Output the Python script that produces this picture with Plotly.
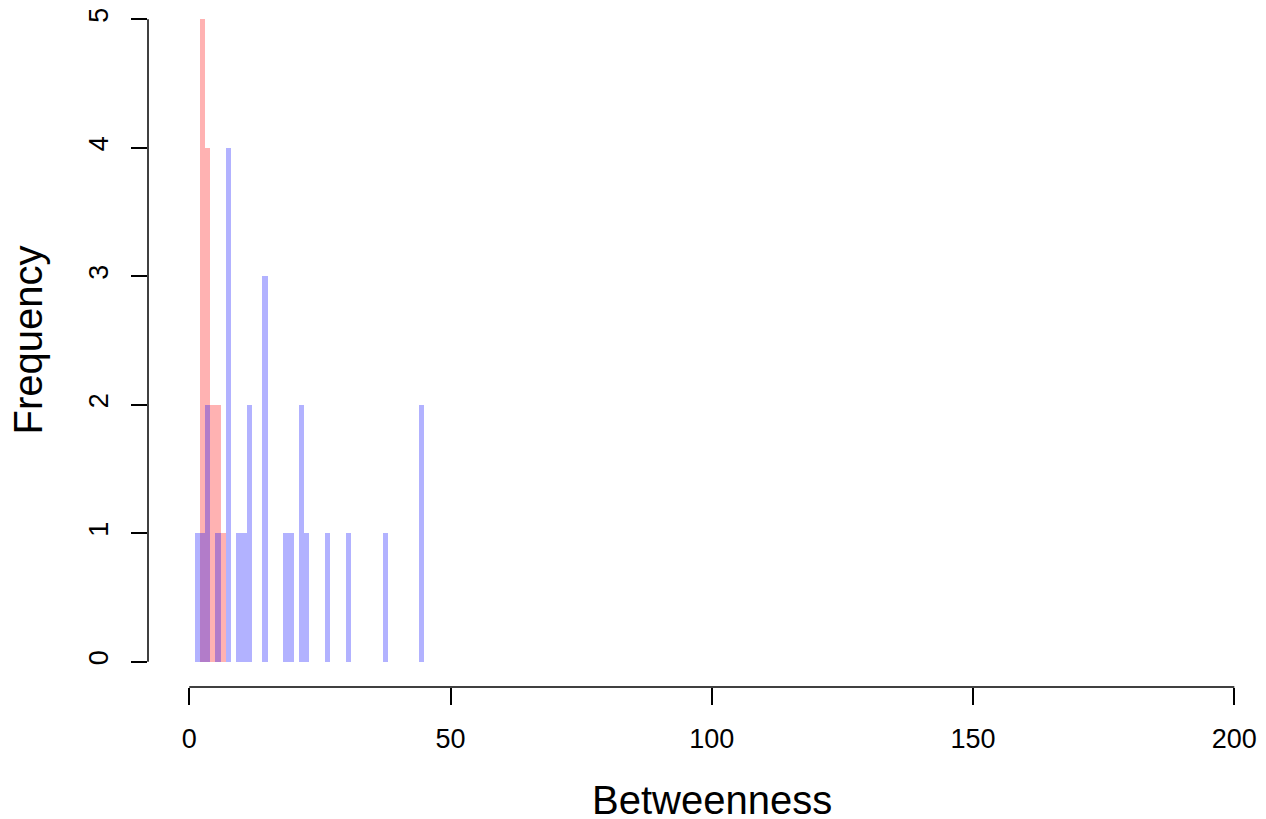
import plotly.graph_objects as go

# Histogram bins (left edges, width 1) and counts
red_bin_left = [2, 3, 4, 5, 6]
red_counts = [5, 4, 2, 2, 1]

blue_bin_left = [1, 2, 3, 5, 7, 9, 10, 11, 14, 18, 19, 21, 22, 26, 30, 37, 44]
blue_counts = [1, 1, 2, 1, 4, 1, 1, 2, 3, 1, 1, 2, 1, 1, 1, 1, 2]

x_ticks = [0, 50, 100, 150, 200]
y_ticks = [0, 1, 2, 3, 4, 5]

FONT = "Liberation Sans, Arial, sans-serif"

fig = go.Figure()
fig.add_trace(go.Bar(
    x=red_bin_left, y=red_counts, width=1, offset=0,
    marker=dict(color="rgba(255,0,0,0.3)", line=dict(width=0)),
    showlegend=False,
))
fig.add_trace(go.Bar(
    x=blue_bin_left, y=blue_counts, width=1, offset=0,
    marker=dict(color="rgba(0,0,255,0.3)", line=dict(width=0)),
    showlegend=False,
))

# page body has an 8px margin; figure sized to fit the remaining window
W, H = 1258, 811
L, B = 140, 132
PH = H - B  # plot height

fig.update_layout(
    width=W, height=H,
    margin=dict(l=L, r=0, t=0, b=B, pad=0),
    paper_bgcolor="white", plot_bgcolor="white",
    barmode="overlay", bargap=0,
    font=dict(family=FONT, color="black"),
    xaxis=dict(
        range=[-7.9, 206.06], showgrid=False, zeroline=False, showline=False,
        tickmode="array", tickvals=x_ticks, ticktext=[str(v) for v in x_ticks],
        ticks="outside", ticklen=17, tickwidth=1.5, tickcolor="black",
        ticklabelstandoff=11, ticklabeloverflow="allow",
        tickfont=dict(size=27, family=FONT, color="black"),
    ),
    yaxis=dict(
        range=[-0.197, 5.087], showgrid=False, zeroline=False, showline=False,
        tickmode="array", tickvals=y_ticks, ticktext=[str(v) for v in y_ticks],
        ticks="outside", ticklen=16, tickwidth=1.5, tickcolor="black",
        tickangle=-90, ticklabelstandoff=12, ticklabeloverflow="allow",
        tickfont=dict(size=27, family=FONT, color="black"),
    ),
    shapes=[
        dict(type="line", xref="x", yref="paper", x0=0, x1=200, y0=0, y1=0,
             line=dict(color="black", width=1.5)),
        dict(type="line", xref="paper", yref="y", x0=0, x1=0, y0=0, y1=5,
             line=dict(color="black", width=1.5)),
    ],
    annotations=[
        dict(text="Betweenness", xref="x", yref="paper", x=100,
             y=(PH - 792) / PH, xanchor="center", yanchor="middle",
             showarrow=False, borderpad=0,
             font=dict(size=40, family=FONT, color="black")),
        dict(text="Frequency", xref="paper", yref="y",
             x=(20 - L) / (W - L), y=2.5, textangle=-90,
             xanchor="center", yanchor="middle",
             showarrow=False, borderpad=0,
             font=dict(size=40, family=FONT, color="black")),
    ],
)

fig.write_html("out.html")
